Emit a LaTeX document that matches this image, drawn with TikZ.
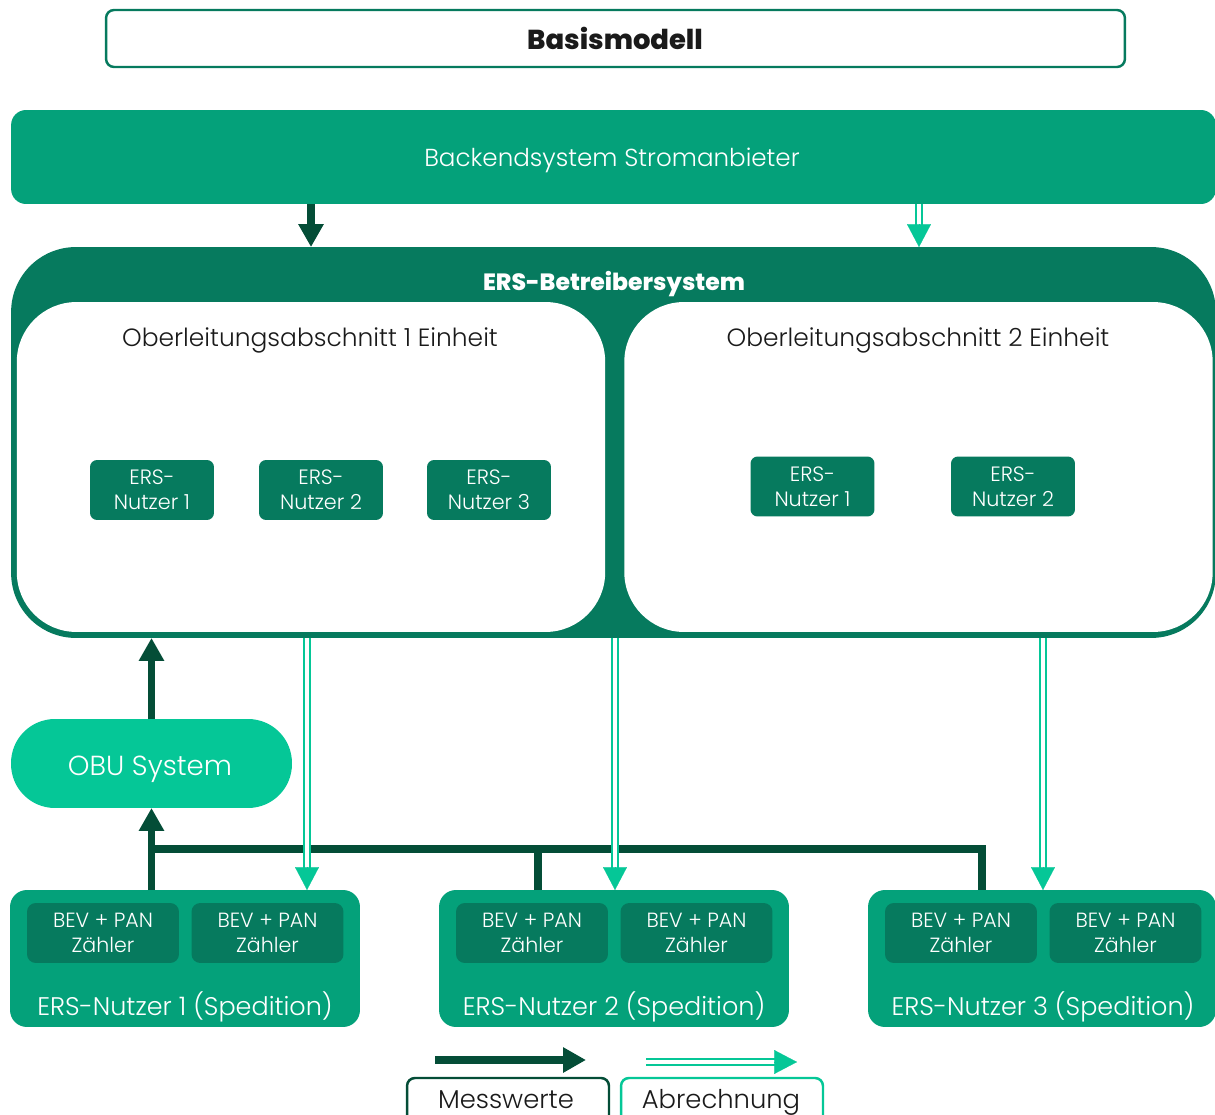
\documentclass[tikz,border=0pt]{standalone}
\usepackage{fontspec}
\IfFontExistsTF{Poppins Light}
  {\setmainfont{Poppins}[UprightFont=* Light,BoldFont=* Bold]}
  {\setmainfont{Poppins}}
\IfFontExistsTF{Poppins ExtraBold}
  {\newfontfamily\heavyfont{Poppins ExtraBold}}
  {\newfontfamily\heavyfont{Poppins}[UprightFont=* Bold]}
\usetikzlibrary{arrows.meta,calc}

\definecolor{midgreen}{HTML}{04A17A}
\definecolor{deepgreen}{HTML}{067A5E}
\definecolor{darkline}{HTML}{044D37}
\definecolor{mint}{HTML}{05C797}
\definecolor{ink}{HTML}{1A1A1A}

\newcommand\fs[2]{\fontsize{#1}{#2}\selectfont}

\begin{document}
\begin{tikzpicture}[x=0.02cm,y=-0.02cm,
  plate/.style={inner sep=0pt,outer sep=0pt},
  headbox/.style={plate,draw=deepgreen,line width=1.4pt,fill=white,rounded corners=4.5pt,
    minimum width=20.38cm,minimum height=1.14cm},
  backbox/.style={plate,fill=midgreen,rounded corners=8.5pt,minimum width=24.1cm,minimum height=1.88cm},
  opbox/.style={plate,fill=deepgreen,rounded corners=36.9pt,minimum width=24.1cm,minimum height=7.82cm},
  secbox/.style={plate,fill=white,rounded corners=34pt,minimum width=11.77cm,minimum height=6.6cm},
  userbox/.style={plate,fill=deepgreen,rounded corners=4pt,minimum width=2.48cm,minimum height=1.2cm,
    text=white,align=center,font=\fs{11.8pt}{14.2pt}},
  obubox/.style={plate,fill=mint,rounded corners=25pt,minimum width=5.62cm,minimum height=1.78cm},
  fleetbox/.style={plate,fill=midgreen,rounded corners=9.6pt,minimum width=7cm,minimum height=2.74cm},
  meterbox/.style={plate,fill=deepgreen,rounded corners=5pt,minimum width=3.04cm,minimum height=1.2cm,
    text=white,align=center,font=\fs{11.7pt}{14.2pt}},
  keybox/.style={plate,fill=white,line width=1.4pt,rounded corners=4.5pt,minimum width=4.04cm,minimum height=1cm},
  whitetext/.style={text=white,anchor=base,inner sep=0pt},
  inktext/.style={text=ink,anchor=base,inner sep=0pt},
  meas/.style={draw=darkline,line width=4.5pt,-{Triangle[width=13.6pt,length=13pt]}},
  measline/.style={draw=darkline,line width=4.5pt,line join=miter},
  billshaft/.style={draw=mint,line width=1.15pt,double=white,double distance=1.9pt},
  billtip/.style={draw=mint,line width=0.1pt,-{Triangle[width=13.6pt,length=13pt]}},
]
\useasboundingbox (0,0) rectangle (1215,1115);

% heading
\node[headbox] (head) at (615.5,38.5) {};
\node[inktext,font=\fs{15.6pt}{18pt}\heavyfont] (headtxt) at (615,50) {Basismodell};

% supplier backend
\node[backbox] (backend) at (613.5,157) {};
\node[whitetext,font=\fs{14pt}{17pt}] (backtxt) at (612,167) {Backendsystem Stromanbieter};

% operator system with its two sections
\node[opbox] (ers) at (613.5,442.5) {};
\node[whitetext,font=\fs{13.4pt}{16pt}\heavyfont] (erstxt) at (614,291) {ERS-Betreibersystem};
\node[secbox] (sec1) at (311,467) {};
\node[secbox] (sec2) at (918.5,467) {};
\node[inktext,font=\fs{14.2pt}{17pt}] (sec1txt) at (310,346) {Oberleitungsabschnitt 1 Einheit};
\node[inktext,font=\fs{14.2pt}{17pt}] (sec2txt) at (918,346) {Oberleitungsabschnitt 2 Einheit};

\node[userbox] (u11) at (152,490) {ERS-\\Nutzer 1};
\node[userbox] (u12) at (321,490) {ERS-\\Nutzer 2};
\node[userbox] (u13) at (489,490) {ERS-\\Nutzer 3};
\node[userbox] (u21) at (812.5,486.5) {ERS-\\Nutzer 1};
\node[userbox] (u22) at (1013,486.5) {ERS-\\Nutzer 2};

% on-board unit
\node[obubox] (obu) at (151.5,763.5) {};
\node[whitetext,font=\fs{15.7pt}{19pt}] (obutxt) at (150,775) {OBU System};

% forwarding companies
\node[fleetbox] (sp1) at (185,958.5) {};
\node[fleetbox] (sp2) at (614,958.5) {};
\node[fleetbox,minimum width=6.96cm] (sp3) at (1042,958.5) {};
\foreach \n/\cx in {sp1/185,sp2/614,sp3/1043}{
  \node[meterbox] (\n a) at (\cx-82,933) {BEV + PAN\\Zähler};
  \node[meterbox] (\n b) at (\cx+82.5,933) {BEV + PAN\\Zähler};
}
\node[whitetext,font=\fs{14.5pt}{17pt}] (sp1txt) at (185,1015) {ERS-Nutzer 1 (Spedition)};
\node[whitetext,font=\fs{14.5pt}{17pt}] (sp2txt) at (614,1015) {ERS-Nutzer 2 (Spedition)};
\node[whitetext,font=\fs{14.5pt}{17pt}] (sp3txt) at (1043,1015) {ERS-Nutzer 3 (Spedition)};

% measured values
\coordinate (xa) at (311,0);
\draw[meas] (backend.south -| xa) -- (ers.north -| xa);
\draw[meas] (obu.north) -- (ers.south -| obu.north);
\coordinate (bus) at (152,849);
\coordinate (j2) at ($(sp2.north)+(-76,0)$);
\coordinate (j3) at ($(sp3.north)+(-60,0)$);
\draw[measline] (bus) -| (j3);
\draw[measline] (j2) -- (j2 |- bus);
\draw[meas] (sp1.north -| obu.south) -- (obu.south);

% billing
\coordinate (xb) at (919,0);
\coordinate (x1) at (307,0);
\coordinate (x2) at (615,0);
\coordinate (x3) at (1043,0);
\draw[billshaft] (backend.south -| xb) -- ($(ers.north -| xb)+(0,-22)$);
\draw[billtip] ($(ers.north -| xb)+(0,-23)$) -- (ers.north -| xb);
\foreach \c/\t in {x1/sp1,x2/sp2,x3/sp3}{
  \draw[billshaft] (ers.south -| \c) -- ($(\t.north -| \c)+(0,-22)$);
  \draw[billtip] ($(\t.north -| \c)+(0,-23)$) -- (\t.north -| \c);
}

% key
\coordinate (ka) at (435,1060);
\coordinate (kb) at (586,1060);
\draw[meas] (ka) -- (kb);
\coordinate (kc) at (646,1062);
\coordinate (kd) at (797,1062);
\draw[billshaft] (kc) -- ($(kd)+(-22,0)$);
\draw[billtip] ($(kd)+(-23,0)$) -- (kd);
\node[keybox,draw=darkline] (key1) at (508,1103) {};
\node[keybox,draw=mint] (key2) at (722,1103) {};
\node[inktext,font=\fs{14.7pt}{17pt}] (key1txt) at (506,1108) {Messwerte};
\node[inktext,font=\fs{14.7pt}{17pt}] (key2txt) at (721,1108) {Abrechnung};
\end{tikzpicture}
\end{document}
